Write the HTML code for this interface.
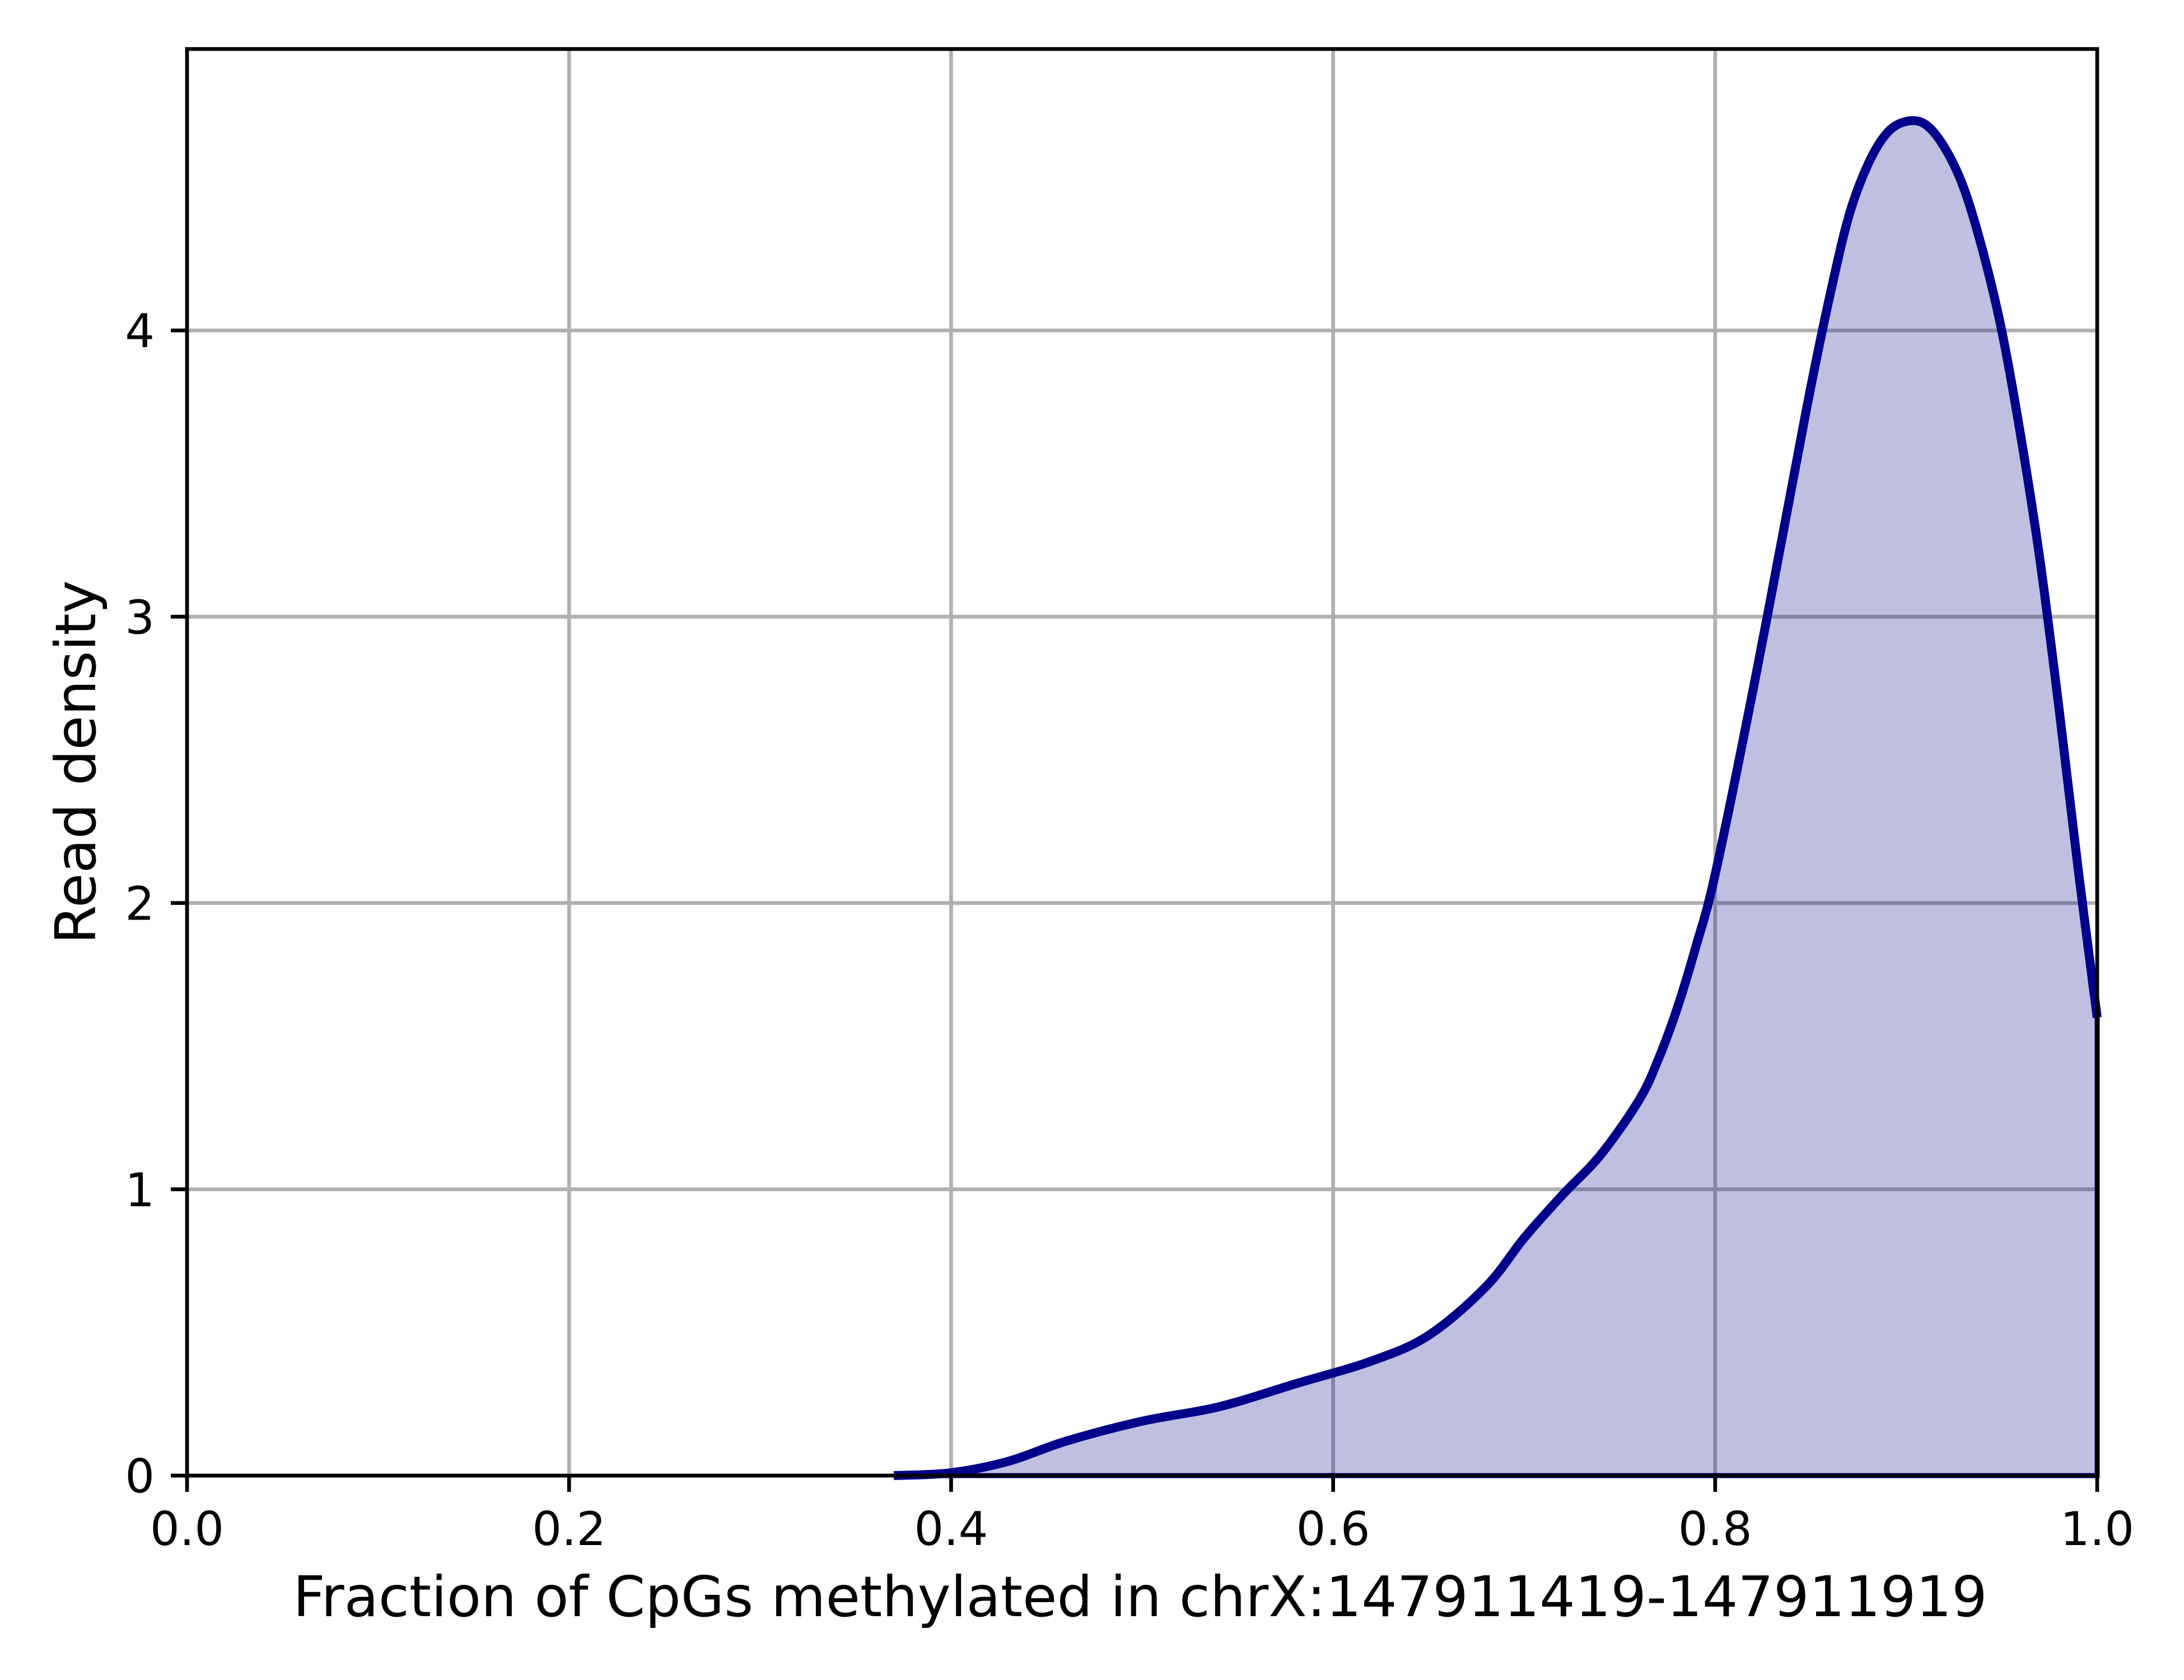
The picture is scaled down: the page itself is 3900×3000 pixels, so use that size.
<!DOCTYPE html>
<html><head><meta charset="utf-8"><style>
html,body{margin:0;padding:0;background:#fff}
svg{display:block}
text{font-family:"DejaVu Sans","Liberation Sans",sans-serif;fill:#000}
</style></head><body>
<svg id="chart" width="3900" height="3000" viewBox="0 0 3900 3000" xmlns="http://www.w3.org/2000/svg">
<rect width="3900" height="3000" fill="#fff"/>
<g id="grid"></g>
<g id="series"></g>
<rect x="334" y="87.5" width="3411" height="2547.5" fill="none" stroke="#000" stroke-width="6.7"/>
<g id="ticks"></g>
<text x="2036" y="2886" font-size="100" text-anchor="middle">Fraction of CpGs methylated in chrX:147911419-147911919</text>
<text transform="translate(170,1361) rotate(-90)" font-size="100" text-anchor="middle">Read density</text>
</svg>
<script>
const xTicks=[0,0.2,0.4,0.6,0.8,1.0];
const xTickLabels=["0.0","0.2","0.4","0.6","0.8","1.0"];
const yTicks=[0,1,2,3,4];
const yTickLabels=["0","1","2","3","4"];
const xs=[0.37,0.40,0.43,0.46,0.50,0.54,0.58,0.62,0.65,0.68,0.70,0.72,0.74,0.76,0.77,0.78,0.79,0.80,0.82,0.84,0.85,0.86,0.87,0.88,0.89,0.90,0.91,0.92,0.93,0.94,0.95,0.96,0.97,0.98,0.99,1.00];
const ys=[0,0.01,0.05,0.12,0.19,0.24,0.32,0.40,0.49,0.66,0.83,0.98,1.12,1.31,1.45,1.63,1.85,2.1,2.75,3.45,3.8,4.12,4.4,4.58,4.69,4.73,4.72,4.64,4.5,4.28,4.0,3.63,3.2,2.68,2.12,1.6];
const L=334,R=3745,T=87.5,B=2635,YMAX=4.983;
const X=v=>L+v*(R-L);
const Y=v=>B-v/YMAX*(B-T);
const NS="http://www.w3.org/2000/svg";
const grid=document.getElementById('grid'),ticks=document.getElementById('ticks'),ser=document.getElementById('series');
function mk(tag,attrs,parent){const e=document.createElementNS(NS,tag);for(const k in attrs)e.setAttribute(k,attrs[k]);parent.appendChild(e);return e;}
xTicks.forEach((v,i)=>{
 const g=mk('line',{x1:X(v),x2:X(v),y1:T,y2:B,stroke:'#b0b0b0','stroke-width':6.7},grid);
 
 
 const t=mk('line',{x1:X(v),x2:X(v),y1:B,y2:B+29,stroke:'#000','stroke-width':6.7},ticks);
 
 
 const l=mk('text',{x:X(v),y:B+124,'font-size':83,'text-anchor':'middle'},ticks);
 l.textContent=xTickLabels[i];
 
 
});
yTicks.forEach((v,i)=>{
 const g=mk('line',{x1:L,x2:R,y1:Y(v),y2:Y(v),stroke:'#b0b0b0','stroke-width':6.7},grid);
 
 
 const t=mk('line',{x1:L-29,x2:L,y1:Y(v),y2:Y(v),stroke:'#000','stroke-width':6.7},ticks);
 
 
 const l=mk('text',{x:L-58,y:Y(v)+30,'font-size':83,'text-anchor':'end'},ticks);
 l.textContent=yTickLabels[i];
 
 
});
const P=xs.map((x,i)=>[X(x),Y(ys[i])]);
let d=`M${P[0][0]},${P[0][1]}`;
for(let i=0;i<P.length-1;i++){
 const p0=P[Math.max(0,i-1)],p1=P[i],p2=P[i+1],p3=P[Math.min(P.length-1,i+2)];
 const c1=[p1[0]+(p2[0]-p0[0])/6,p1[1]+(p2[1]-p0[1])/6];
 const c2=[p2[0]-(p3[0]-p1[0])/6,p2[1]-(p3[1]-p1[1])/6];
 d+=` C${c1[0]},${c1[1]} ${c2[0]},${c2[1]} ${p2[0]},${p2[1]}`;
}
const fill=mk('path',{d:d+` L${P[P.length-1][0]},${Y(0)} L${P[0][0]},${Y(0)} Z`,fill:'#00008b','fill-opacity':0.25,stroke:'#00008b','stroke-width':9},ser);


const line=mk('path',{d:d,fill:'none',stroke:'#00008b','stroke-width':16,'stroke-linejoin':'round'},ser);


</script>
</body></html>
